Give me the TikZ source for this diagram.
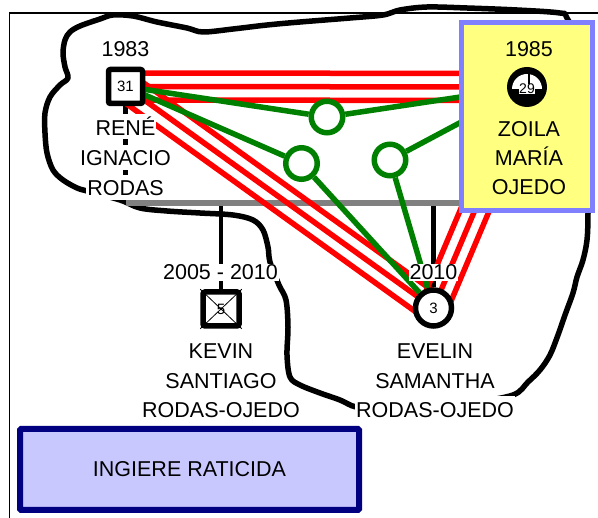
\documentclass[tikz,border=0pt]{standalone}
\usepackage{fontspec}
\setmainfont{Liberation Sans}
\usetikzlibrary{calc}
\definecolor{redc}{RGB}{255,0,0}
\definecolor{greenc}{RGB}{0,128,0}
\definecolor{grayc}{RGB}{128,128,128}
\definecolor{yfill}{RGB}{255,255,128}
\definecolor{yborder}{RGB}{128,128,255}
\definecolor{bfill}{RGB}{200,200,255}
\definecolor{bborder}{RGB}{0,0,128}
\pgfdeclarelayer{back}
\pgfdeclarelayer{mid}
\pgfsetlayers{back,mid,main}
\begin{document}
\begin{tikzpicture}[x=1pt,y=-1pt,
  every node/.style={font=\fontsize{21.5}{26}\selectfont, inner sep=0pt},
  namelbl/.style={anchor=base, fill=white, inner sep=1pt, text height=20pt, text depth=3pt},
  plainlbl/.style={anchor=base},
  yearlbl/.style={anchor=base, fill=white, inner sep=1pt},
  numlbl/.style={font=\fontsize{15}{18}\selectfont},
  malesym/.style={draw=black, line width=5.5pt, fill=white, rounded corners=2pt},
  femsym/.style={circle, draw=black, line width=5.5pt, fill=white, minimum size=36pt},
  redl/.style={draw=redc, line width=5.5pt},
  greenl/.style={draw=greenc, line width=5.5pt},
  marr/.style={circle, draw=greenc, line width=5.5pt, fill=white, minimum size=31.5pt},
  kinline/.style={draw=black, line width=4.5pt},
  grayl/.style={draw=grayc, line width=5.5pt},
  cloudline/.style={draw=black, line width=5.5pt, line join=round},
  ybox/.style={draw=yborder, fill=yfill, line width=5.5pt},
  bbox/.style={draw=bborder, fill=bfill, line width=6pt, rounded corners=1pt},
]
\useasboundingbox (0,0) rectangle (598,518);

% ---------- René ----------
\node[malesym, minimum width=34pt, minimum height=34pt] (rene) at (125.5,86.5) {};
\node[numlbl] (renenum) at (rene.center) {31};
\node[yearlbl] (reneyr) at (125.5,57) {1983};
\node[namelbl] (renen1) at (125.5,135.5) {RENÉ};
\node[namelbl] (renen2) at (125.5,166) {IGNACIO};
\node[namelbl] (renen3) at (125.5,196) {RODAS};

% ---------- marriage circles ----------
\node[marr] (m1) at (327,117) {};
\node[marr] (m2) at (301.5,163.5) {};
\node[marr] (m3) at (390,160) {};

% ---------- Zoila ----------
\node[ybox, minimum width=131pt, minimum height=188pt] (zbox) at (527,116.5) {};
\node[circle, fill=black, minimum size=40pt] (zoila) at (527,87) {};
\fill[white] ($(zoila.center)+(-15,2)$) arc[start angle=180, end angle=360, radius=15] -- cycle;
\draw[black, line width=1.3pt] ($(zoila.center)+(2,-1)$) -- ++(0,-15);
\node[font=\fontsize{14}{16}\selectfont, fill=white, inner sep=0.3pt] (zoilanum) at ($(zoila.center)+(0,2)$) {29};
\node[plainlbl] (zoilayr) at (529,57) {1985};
\node[plainlbl] (zoilan1) at (529,136.5) {ZOILA};
\node[plainlbl] (zoilan2) at (529,166) {MARÍA};
\node[plainlbl] (zoilan3) at (529,195) {OJEDO};

% ---------- Kevin ----------
\node[malesym, minimum width=36pt, minimum height=34pt] (kevin) at (221,309) {};
\draw[line width=0.8pt] (kevin.north west) -- (kevin.south east) (kevin.north east) -- (kevin.south west);
\node[numlbl] (kevinnum) at (kevin.center) {5};
\node[yearlbl] (kevinyr) at (220.5,280) {2005 - 2010};
\node[namelbl] (kevinn1) at (221,359) {KEVIN};
\node[namelbl] (kevinn2) at (221,388.5) {SANTIAGO};
\node[namelbl] (kevinn3) at (221,417.5) {RODAS-OJEDO};

% ---------- Evelin ----------
\node[femsym] (evelin) at (433.5,308) {};
\node[numlbl] (evelinnum) at (evelin.center) {3};
\node[yearlbl] (evelinyr) at (433.5,280) {2010};
\node[namelbl] (evelinn1) at (435,359) {EVELIN};
\node[namelbl] (evelinn2) at (435,388.5) {SAMANTHA};
\node[namelbl] (evelinn3) at (435,417.5) {RODAS-OJEDO};

% ---------- note ----------
\node[bbox, minimum width=339pt, minimum height=81pt] (note) at (189.5,469.5) {INGIERE RATICIDA};

% ---------- coordinates ----------
\coordinate (gl) at (125.5,203);
\coordinate (gr) at (zbox.west |- gl);
\coordinate (kt) at (kevin.north |- gl);
\coordinate (et) at (evelin.north |- gl);

% ---------- background: frame and household outline ----------
\begin{pgfonlayer}{back}
\draw[line width=1.2pt] (9.5,518) -- (9.5,13) -- (598,13);
\draw[cloudline] plot[smooth cycle, tension=0.55] coordinates {
 (70,32) (80,26) (100,19) (113,15) (133,16) (157,22) (187,28) (203,32) (233,29)
 (267,25) (300,22) (350,18) (383,15) (400,10) (427,7) (467,8) (517,10) (560,13)
 (567,18) (585,60) (588,150) (588,213) (587,240) (583,260) (577,277) (573,293)
 (565,315) (558,335) (550,355) (540,370) (528,382) (513,395) (470,403) (435,406)
 (380,408) (356,407) (340,400) (320,393) (300,385) (290,377) (287,355) (288,327)
 (286,300) (279,285) (270,262) (268,247) (263,230) (253,220) (233,215) (200,213)
 (167,211) (140,208) (120,200) (87,191) (77,188) (63,180) (53,170) (47,153)
 (45,133) (45,113) (50,97) (60,85) (68,78) (65,67) (63,53) (65,40)};
\end{pgfonlayer}

% ---------- connectors ----------
\begin{pgfonlayer}{mid}
\draw[kinline] (rene.south) -- (rene.south |- gl);
\draw[kinline] (kt) -- (kevin.north);
\draw[kinline] (et) -- (evelin.north);
\draw[grayl] (gl) -- (gr);
\foreach \a/\b in {rene/zoila, rene/evelin, zoila/evelin}{
  \foreach \d in {-13.5pt,0pt,13.5pt}{
    \draw[redl] ($(\a.center)!\d!90:(\b.center)$) -- ($(\b.center)!\d!-90:(\a.center)$);
  }
}
\draw[greenl] (rene.center) -- (m1) -- (zoila.center);
\draw[greenl] (rene.center) -- (m2) -- (evelin);
\draw[greenl] (zoila.center) -- (m3) -- (evelin);
\end{pgfonlayer}
\end{tikzpicture}
\end{document}
